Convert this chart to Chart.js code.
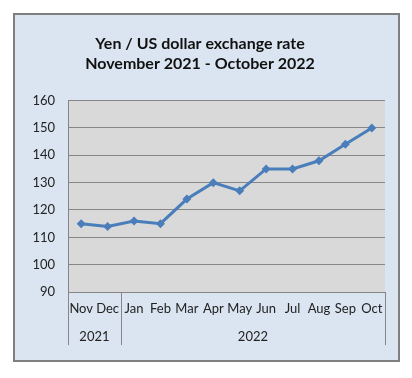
<!DOCTYPE html>
<html>
<head>
<meta charset="utf-8">
<script src="https://cdn.jsdelivr.net/npm/chart.js@4"></script>
<style>
    html, body { margin: 0; padding: 0; background: #ffffff; }
    #frame {
        position: absolute;
        left: 13px;
        top: 13px;
        width: 383px;
        height: 345px;
        border: 2px solid #7f7f7f;
        background: #dbe5f1;
    }
    #rateChart { display: block; }
</style>
</head>
<body>
<div id="frame">
    <canvas id="rateChart" width="383" height="345"></canvas>
</div>
<script>
// Monthly yen per US dollar
const months = ['Nov', 'Dec', 'Jan', 'Feb', 'Mar', 'Apr', 'May', 'Jun', 'Jul', 'Aug', 'Sep', 'Oct'];
const years = ['2021', '2021', '2022', '2022', '2022', '2022', '2022', '2022', '2022', '2022', '2022', '2022'];
const yenPerDollar = [115, 114, 116, 115, 124, 130, 127, 135, 135, 138, 144, 150];
const titleLines = ['Yen / US dollar exchange rate', 'November 2021 - October 2022'];

const gridColor = '#868686';
const tickFont = { family: 'Lato', size: 13 };

// draws the year row under the month labels, with separators between groups
const yearGroups = {
    id: 'yearGroups',
    afterDraw(chart) {
        const ctx = chart.ctx;
        const x = chart.scales.x;
        const area = chart.chartArea;
        const step = x.getPixelForValue(1) - x.getPixelForValue(0);
        const groups = [];
        years.forEach((y, i) => {
            const last = groups[groups.length - 1];
            if (last && last.year === y) {
                last.end = i;
            } else {
                groups.push({ year: y, start: i, end: i });
            }
        });

        ctx.save();
        ctx.strokeStyle = gridColor;
        ctx.lineWidth = 1;
        ctx.fillStyle = '#222';
        ctx.font = '13px Lato';
        ctx.textAlign = 'center';
        ctx.textBaseline = 'middle';
        groups.forEach(g => {
            const left = x.getPixelForValue(g.start) - step / 2;
            const right = x.getPixelForValue(g.end) + step / 2;
            [left, right].forEach(px => {
                ctx.beginPath();
                ctx.moveTo(Math.round(px) + 0.5, area.bottom);
                ctx.lineTo(Math.round(px) + 0.5, area.bottom + 53);
                ctx.stroke();
            });
            ctx.fillText(g.year, (left + right) / 2, area.bottom + 45);
        });
        ctx.restore();
    }
};

const ctx = document.getElementById('rateChart').getContext('2d');
new Chart(ctx, {
    type: 'line',
    data: {
        labels: months,
        datasets: [{
            label: 'Yen per dollar',
            data: yenPerDollar,
            borderColor: '#4a7ebb',
            backgroundColor: '#4a7ebb',
            borderWidth: 3,
            pointStyle: 'rectRot',
            pointRadius: 4.5,
            pointBorderWidth: 0,
            tension: 0
        }]
    },
    options: {
        responsive: false,
        animation: false,
        layout: {
            padding: { left: 0, right: 13, top: 0, bottom: 38 }
        },
        plugins: {
            legend: { display: false },
            tooltip: { enabled: false },
            title: {
                display: true,
                text: titleLines,
                color: '#111',
                font: { family: 'Lato', size: 16, weight: 'bold', lineHeight: 1.3 },
                padding: { top: 18, bottom: 26 }
            }
        },
        scales: {
            x: {
                offset: true,
                grid: { display: false, drawTicks: false },
                border: { display: false },
                ticks: {
                    color: '#222',
                    font: tickFont,
                    padding: 9,
                    maxRotation: 0,
                    autoSkip: false
                },
                afterFit(scale) { scale.height = 30; }
            },
            y: {
                min: 90,
                max: 160,
                ticks: {
                    stepSize: 10,
                    color: '#222',
                    font: tickFont,
                    padding: 13
                },
                grid: { color: gridColor, drawTicks: false },
                border: { display: true, color: gridColor },
                afterFit(scale) { scale.width = 53; }
            }
        }
    },
    plugins: [
        {
            id: 'plotBackground',
            beforeDraw(chart) {
                const a = chart.chartArea;
                chart.ctx.save();
                chart.ctx.fillStyle = '#d9d9d9';
                chart.ctx.fillRect(a.left, a.top, a.right - a.left, a.bottom - a.top);
                chart.ctx.restore();
            }
        },
        yearGroups
    ]
});
</script>
</body>
</html>
